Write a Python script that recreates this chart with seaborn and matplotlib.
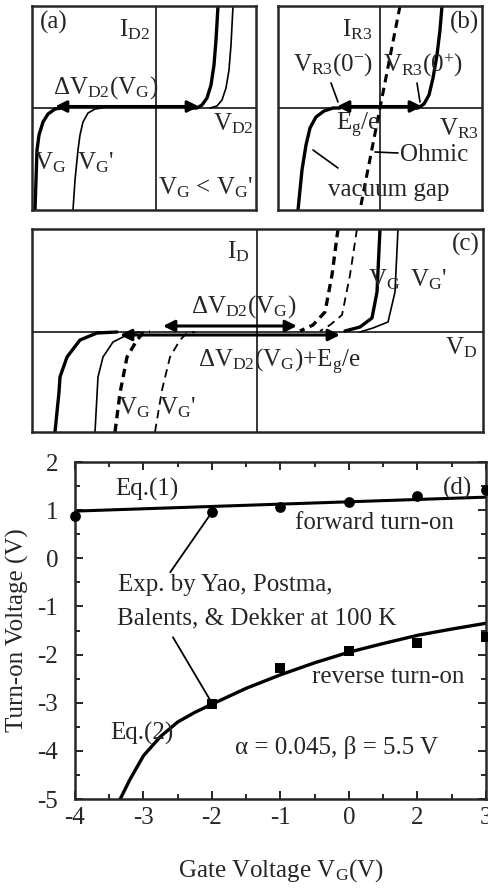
import numpy as np
import pandas as pd
import seaborn as sns
import matplotlib.pyplot as plt

sns.set_style("ticks")
plt.rcParams['font.family'] = ['Liberation Serif', 'DejaVu Serif']
plt.rcParams['mathtext.fontset'] = 'custom'
plt.rcParams['mathtext.rm'] = 'Liberation Serif'
plt.rcParams['mathtext.it'] = 'Liberation Serif'
plt.rcParams['mathtext.default'] = 'regular'
plt.rcParams['axes.unicode_minus'] = False

W, H = 489, 888
FS = 18

# ---- panel (d) data: turn-on voltage vs gate voltage ----
gate_labels = ['-4', '-3', '-2', '-1', '0', '2', '3']
volt_labels = ['-5', '-4', '-3', '-2', '-1', '0', '1', '2']
fwd_pos = [0, 2, 3, 4, 5, 6]
fwd_exp = [0.87, 0.96, 1.06, 1.16, 1.29, 1.41]
rev_pos = [2, 3, 4, 5, 6]
rev_exp = [-3.02, -2.27, -1.93, -1.75, -1.64]
eq1_pos = [0, 6]
eq1_val = [0.98, 1.27]
eq2_pos = [0.66, 0.8, 1.0, 1.25, 1.5, 1.75, 2.0, 2.5, 3.0, 3.5, 4.0, 4.5, 5.0, 5.5, 6.0]
eq2_val = [-5.0, -4.6, -4.1, -3.7, -3.4, -3.2, -3.03, -2.7, -2.42, -2.17, -1.95,
           -1.77, -1.6, -1.47, -1.35]

# ---- schematic I-V curves (local units, origin at axis crossing) ----
a_vg_rev = [(-121, -102), (-120, -72), (-119, -42), (-117, -27), (-113, -14), (-108, -6), (-101, -1), (-94, 0)]
a_vgp_rev = [(-83, -102), (-81, -72), (-78, -42), (-76, -27), (-73, -14), (-68, -5), (-61, -1), (-54, 0)]
a_vg_fwd = [(62, 102), (60, 68), (58, 43), (55, 23), (51, 10), (46, 3), (41, 0), (34, 0)]
a_vgp_fwd = [(77, 102), (75, 63), (73, 38), (70, 20), (66, 8), (61, 2), (54, 0)]

b_gap_rev = [(-82, -102), (-78, -62), (-74, -37), (-70, -20), (-64, -9), (-56, -3), (-47, 0), (-40, 0)]
b_gap_fwd = [(62, 102), (60, 78), (57, 53), (53, 30), (49, 13), (44, 4), (38, 0), (30, 0)]
b_ohmic = [(20, 102), (-20, -102)]

c_vg_rev = [(-202, -100), (-198, -60), (-197, -45), (-190, -25), (-177, -8), (-160, -1), (-140, 0)]
c_vgp_rev = [(-162, -100), (-159, -45), (-154, -25), (-144, -10), (-130, -3), (-117, 0)]
c_vg_rev_d = [(-142, -100), (-137, -61), (-130, -25), (-120, -8), (-114, -1), (-107, 0)]
c_vgp_rev_d = [(-102, -100), (-95, -58), (-87, -25), (-77, -8), (-70, -1), (-62, 0)]
c_vg_fwd_d = [(81, 103), (75, 57), (68, 20), (56, 7), (43, 1)]
c_vgp_fwd_d = [(100, 103), (93, 57), (85, 17), (73, 7), (63, 1)]
c_vg_fwd = [(123, 103), (120, 40), (115, 14), (103, 5), (88, 1)]
c_vgp_fwd = [(141, 103), (138, 40), (131, 10), (116, 4), (103, 0)]


def rect(x0, y0, x1, y1):
    return [x0 / W, 1 - y1 / H, (x1 - x0) / W, (y1 - y0) / H]


def panel(fig, box, origin):
    x0, y0, x1, y1 = box
    ox, oy = origin
    ax = fig.add_axes(rect(*box))
    ax.set_xlim(x0 - ox, x1 - ox)
    ax.set_ylim(oy - y1, oy - y0)
    ax.set_xticks([])
    ax.set_yticks([])
    for s in ax.spines.values():
        s.set_linewidth(1.8)
    ax.axhline(0, color='k', lw=1.1)
    ax.axvline(0, color='k', lw=1.1)
    return ax


def curve(ax, pts, lw, dashed=False):
    xs, ys = zip(*pts)
    if dashed:
        # dash length kept about the same in pixels for thick and thin lines
        ax.plot(xs, ys, color='k', lw=lw, dashes=(6.0 / lw, 4.0 / lw))
    else:
        ax.plot(xs, ys, color='k', lw=lw)


def darrow(ax, x0, x1, y, lw=2.2):
    ax.annotate('', xy=(x1, y), xytext=(x0, y),
                arrowprops=dict(arrowstyle='<|-|>', lw=lw, color='k',
                                mutation_scale=17, shrinkA=0, shrinkB=0))


def seg(ax, p, q, lw=1.2):
    ax.plot([p[0], q[0]], [p[1], q[1]], color='k', lw=lw)


fig = plt.figure(figsize=(W / 100, H / 100), dpi=100)

# ---------------- (a) ----------------
ax = panel(fig, (32, 6, 256, 210), (156, 108))
curve(ax, a_vg_rev, 2.4)
curve(ax, a_vgp_rev, 1.2)
curve(ax, a_vg_fwd, 2.4)
curve(ax, a_vgp_fwd, 1.2)
darrow(ax, -101, 43, 1.5)
ax.text(-116, 86, '(a)', fontsize=FS, va='center', ha='left')
ax.text(-6, 78, r'$I_{D2}$', fontsize=FS, va='center', ha='right')
ax.text(-103, 20, r'$\Delta V_{D2}(V_G)$', fontsize=FS, va='center', ha='left')
ax.text(57, -16, r'$V_{D2}$', fontsize=FS, va='center', ha='left')
ax.text(-122, -55, r'$V_G$', fontsize=FS, va='center', ha='left')
ax.text(-79, -55, r"$V_G$'", fontsize=FS, va='center', ha='left')
ax.text(2, -80, r"$V_G$ < $V_G$'", fontsize=FS, va='center', ha='left')

# ---------------- (b) ----------------
ax = panel(fig, (278, 6, 482, 210), (380, 108))
curve(ax, b_gap_rev, 2.4)
curve(ax, b_gap_fwd, 2.4)
curve(ax, b_ohmic, 2.2, dashed=True)
darrow(ax, -43, 42, 1.5)
ax.text(-8, 78, r'$I_{R3}$', fontsize=FS, va='center', ha='right')
ax.text(99, 86, '(b)', fontsize=FS, va='center', ha='right')
ax.text(-87, 43, r'$V_{R3}(0^{-})$', fontsize=FS, va='center', ha='left')
ax.text(3, 43, r'$V_{R3}(0^{+})$', fontsize=FS, va='center', ha='left')
ax.text(-44, -17, r'$E_g/e$', fontsize=FS, va='center', ha='left')
ax.text(59, -21, r'$V_{R3}$', fontsize=FS, va='center', ha='left')
ax.text(20, -47, 'Ohmic', fontsize=FS, va='center', ha='left')
ax.text(-52, -82, 'vacuum gap', fontsize=FS, va='center', ha='left')
seg(ax, (-49, 25), (-42, 6))
seg(ax, (37, 25), (40, 6))
seg(ax, (-5, -44), (18, -45))
seg(ax, (-67, -42), (-42, -60))

# ---------------- (c) ----------------
ax = panel(fig, (32, 229, 483, 432), (257, 332))
curve(ax, c_vg_rev, 2.4)
curve(ax, c_vgp_rev, 1.2)
curve(ax, c_vg_rev_d, 2.4, dashed=True)
curve(ax, c_vgp_rev_d, 1.3, dashed=True)
curve(ax, c_vg_fwd_d, 2.4, dashed=True)
curve(ax, c_vgp_fwd_d, 1.3, dashed=True)
curve(ax, c_vg_fwd, 2.4)
curve(ax, c_vgp_fwd, 1.2)
darrow(ax, -94, 40, 6)
darrow(ax, -137, 83, -3)
ax.text(-7, 80, r'$I_D$', fontsize=FS, va='center', ha='right')
ax.text(223, 88, '(c)', fontsize=FS, va='center', ha='right')
ax.text(111, 52, r'$V_G$', fontsize=FS, va='center', ha='left')
ax.text(153, 52, r"$V_G$'", fontsize=FS, va='center', ha='left')
ax.text(-66, 25, r'$\Delta V_{D2}(V_G)$', fontsize=FS, va='center', ha='left')
ax.text(188, -16, r'$V_D$', fontsize=FS, va='center', ha='left')
ax.text(-59, -30, r'$\Delta V_{D2}(V_G)$+$E_g$/e', fontsize=FS, va='center', ha='left')
ax.text(-139, -76, r'$V_G$', fontsize=FS, va='center', ha='left')
ax.text(-98, -76, r"$V_G$'", fontsize=FS, va='center', ha='left')

# ---------------- (d) ----------------
ax = fig.add_axes(rect(75, 462, 486, 799))
fwd = pd.DataFrame({'pos': fwd_pos, 'v': fwd_exp})
rev = pd.DataFrame({'pos': rev_pos, 'v': rev_exp})
sns.lineplot(x=eq1_pos, y=eq1_val, ax=ax, color='k', lw=2.2, estimator=None)
sns.lineplot(x=eq2_pos, y=eq2_val, ax=ax, color='k', lw=2.4, estimator=None)
sns.scatterplot(data=fwd, x='pos', y='v', ax=ax, marker='o', s=60, color='k',
                edgecolor='k', linewidth=0, clip_on=False, zorder=5)
sns.scatterplot(data=rev, x='pos', y='v', ax=ax, marker='s', s=45, color='k',
                edgecolor='k', linewidth=0, clip_on=False, zorder=5)
ax.set_xlim(0, 6)
ax.set_ylim(-5, 2)
ax.set_xticks(range(len(gate_labels)))
ax.set_xticklabels(gate_labels)
ax.set_xticks(np.arange(0.5, 6, 1), minor=True)
ax.set_yticks(range(-5, 3))
ax.set_yticklabels(volt_labels)
ax.set_yticks(np.arange(-4.5, 2, 1), minor=True)
ax.tick_params(which='both', direction='in', top=True, right=True,
               labelsize=FS, width=1.4)
ax.tick_params(which='major', length=6)
ax.tick_params(axis='x', which='major', pad=6)
ax.tick_params(axis='y', which='major', pad=12)
ax.tick_params(which='minor', length=3.5)
for s in ax.spines.values():
    s.set_linewidth(1.8)
ax.set_xlabel(r'Gate Voltage $V_G$(V)', fontsize=FS, labelpad=20)
ax.set_ylabel('Turn-on Voltage (V)', fontsize=FS, labelpad=6)

ax.text(0.58, 1.42, 'Eq.(1)', fontsize=FS, va='center', ha='left')
ax.text(5.37, 1.46, '(d)', fontsize=FS, va='center', ha='left')
ax.text(3.21, 0.73, 'forward turn-on', fontsize=FS, va='center', ha='left')
ax.text(0.63, -0.56, 'Exp. by Yao, Postma,', fontsize=FS, va='center', ha='left')
ax.text(0.61, -1.25, 'Balents, & Dekker at 100 K', fontsize=FS, va='center', ha='left')
ax.text(3.46, -2.47, 'reverse turn-on', fontsize=FS, va='center', ha='left')
ax.text(0.51, -3.64, 'Eq.(2)', fontsize=FS, va='center', ha='left')
ax.text(2.34, -3.93, r'α = 0.045, β = 5.5 V', fontsize=FS, va='center', ha='left')
ax.plot([1.39, 2.0], [-0.29, 0.96], color='k', lw=1.3)
ax.plot([1.43, 2.0], [-1.64, -3.01], color='k', lw=1.3)

fig.savefig('out.png', dpi=100)
